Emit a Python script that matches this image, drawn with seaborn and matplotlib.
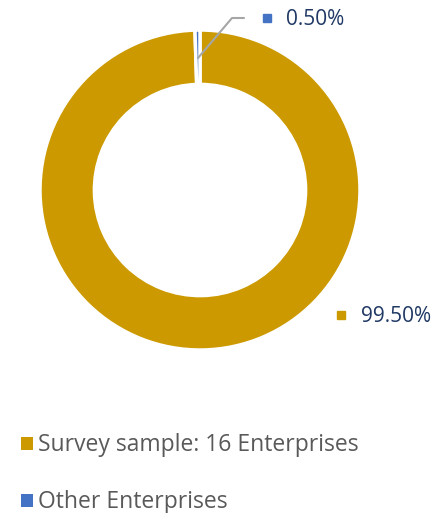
import matplotlib
matplotlib.use("Agg")
import matplotlib.pyplot as plt
import seaborn as sns
from matplotlib.patches import Patch

categories = ["Survey sample: 16 Enterprises", "Other Enterprises"]
values = [99.5, 0.5]
pct_labels = ["99.50%", "0.50%"]
colors = ["#CC9A00", "#4472C4"]

sns.set_theme(style="white")
plt.rcParams['font.family'] = ['Open Sans', 'DejaVu Sans']

W, H = 435, 513
fig = plt.figure(figsize=(W / 100, H / 100), dpi=100)
ax = fig.add_axes([0, 0, 1, 1])

cx, cy, R = 200, H - 190, 160
ax.pie(values, colors=colors, startangle=90, counterclock=False,
       center=(cx, cy), radius=R,
       wedgeprops=dict(width=R * 0.34, edgecolor="white", linewidth=2.5),
       frame=True)
ax.set_xlim(0, W)
ax.set_ylim(0, H)
ax.axis("off")

navy = "#1F3864"
# leader line for small slice
ax.plot([198, 232, 244], [H - 58, H - 18, H - 18], color="#A6A6A6", lw=1.5)
# data labels
ax.plot([267], [H - 18], marker="s", ms=5.5, color=colors[1], linestyle="none")
ax.text(286, H - 19, pct_labels[1], color=navy, fontsize=15, va="center", ha="left")
ax.plot([341], [H - 315], marker="s", ms=5.5, color=colors[0], linestyle="none")
ax.text(361, H - 316, pct_labels[0], color=navy, fontsize=15, va="center", ha="left")

handles = [Patch(facecolor=c, edgecolor="none") for c in colors]
fig.legend(handles, categories, loc="upper left", bbox_to_anchor=(12 / W, 1 - 424 / H),
           frameon=False, fontsize=16.5, labelcolor="#595959", handlelength=0.5,
           handleheight=0.5, handletextpad=0.25, labelspacing=1.45, borderaxespad=0)

fig.savefig("out.png", dpi=100)
